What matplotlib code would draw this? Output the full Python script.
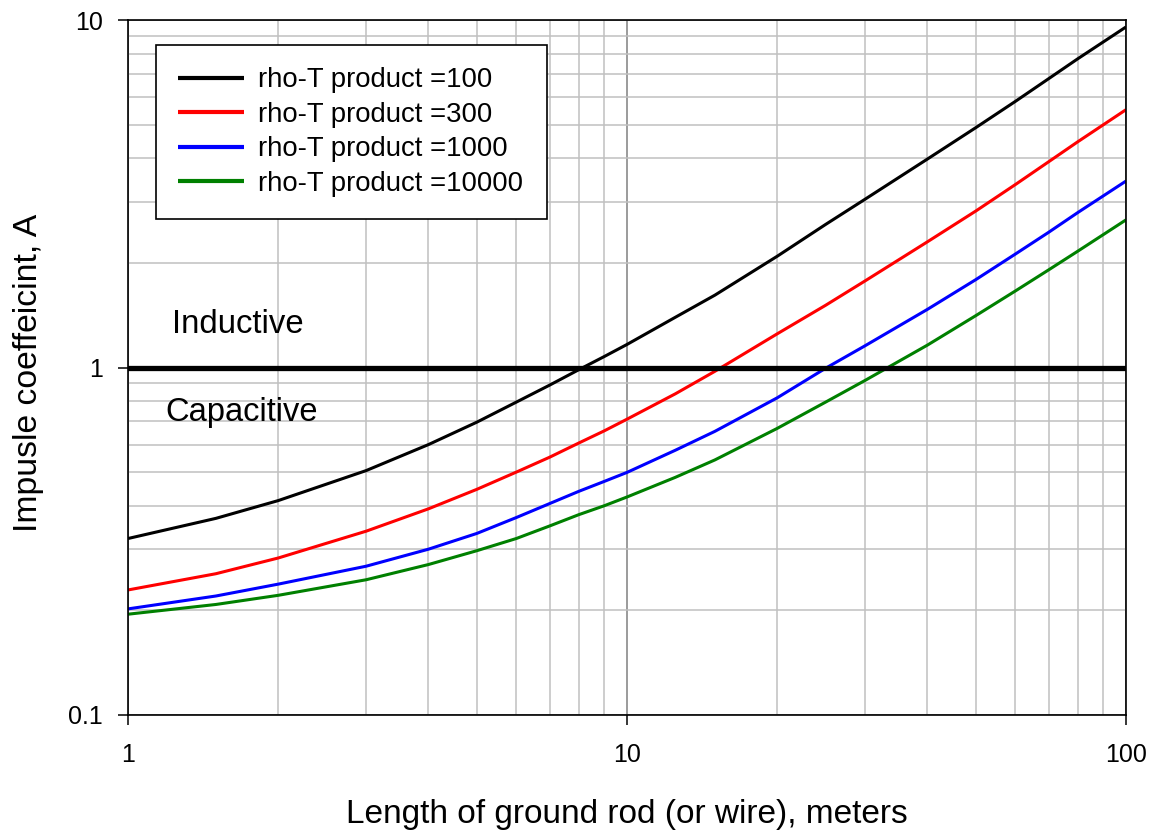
import matplotlib
matplotlib.use("Agg")
import matplotlib.pyplot as plt
from matplotlib.ticker import LogLocator, NullFormatter, FixedLocator, FixedFormatter

plt.rcParams['font.family'] = ['Liberation Sans', 'DejaVu Sans']

# ---- data ----
length_m = [1, 1.5, 2, 3, 4, 5, 6, 7, 8, 9, 10, 12.5, 15, 20, 25, 30, 40, 50, 60, 70, 80, 100]
coef_100 = [0.322, 0.368, 0.414, 0.505, 0.600, 0.696, 0.795, 0.890, 0.985, 1.075, 1.165,
            1.395, 1.615, 2.09, 2.58, 3.05, 3.98, 4.90, 5.83, 6.78, 7.73, 9.55]
coef_300 = [0.229, 0.255, 0.283, 0.338, 0.392, 0.446, 0.500, 0.552, 0.606, 0.657, 0.710,
            0.840, 0.975, 1.25, 1.51, 1.775, 2.30, 2.82, 3.36, 3.91, 4.46, 5.52]
coef_1000 = [0.202, 0.220, 0.238, 0.268, 0.300, 0.333, 0.370, 0.406, 0.440, 0.470, 0.499,
             0.578, 0.655, 0.818, 0.995, 1.155, 1.47, 1.79, 2.12, 2.45, 2.79, 3.44]
coef_10000 = [0.195, 0.208, 0.221, 0.245, 0.271, 0.297, 0.322, 0.350, 0.377, 0.400, 0.424,
              0.483, 0.542, 0.668, 0.795, 0.918, 1.16, 1.41, 1.66, 1.91, 2.16, 2.66]
series_labels = ["rho-T product =100", "rho-T product =300",
                 "rho-T product =1000", "rho-T product =10000"]
series_colors = ["#000000", "#FF0000", "#0000FF", "#008000"]
threshold = 1.0
x_ticks = [1, 10, 100]
x_tick_labels = ["1", "10", "100"]
y_ticks = [0.1, 1, 10]
y_tick_labels = ["0.1", "1", "10"]

W, H = 1152, 833
fig = plt.figure(figsize=(W / 100, H / 100), dpi=100)
L, R, T, B = 128, 1126, 20, 715
ax = fig.add_axes([L / W, 1 - B / H, (R - L) / W, (B - T) / H])
ax.set_xscale('log')
ax.set_yscale('log')
ax.set_xlim(1, 100)
ax.set_ylim(0.1, 10)

# grid
ax.xaxis.set_minor_locator(LogLocator(base=10, subs=range(2, 10)))
ax.yaxis.set_minor_locator(LogLocator(base=10, subs=range(2, 10)))
ax.xaxis.set_minor_formatter(NullFormatter())
ax.yaxis.set_minor_formatter(NullFormatter())
ax.xaxis.set_major_locator(FixedLocator(x_ticks))
ax.xaxis.set_major_formatter(FixedFormatter(x_tick_labels))
ax.yaxis.set_major_locator(FixedLocator(y_ticks))
ax.yaxis.set_major_formatter(FixedFormatter(y_tick_labels))
ax.grid(which='minor', color='#C0C0C0', lw=1.1)
ax.grid(which='major', color='#808080', lw=1.1)
ax.set_axisbelow(True)

ax.tick_params(which='minor', length=0)
ax.tick_params(which='major', direction='out', length=7, width=1.1, color='black',
               labelsize=18)
ax.tick_params(axis='x', which='major', pad=13)
ax.tick_params(axis='y', which='major', pad=11)
for s in ax.spines.values():
    s.set_linewidth(1.2)
    s.set_color('black')

# curves
all_series = [coef_100, coef_300, coef_1000, coef_10000]
for vals, lab, col in zip(all_series, series_labels, series_colors):
    ax.plot(length_m, vals, color=col, lw=2.2, label=lab,
            solid_joinstyle='round', solid_capstyle='butt')

ax.axhline(threshold, color='black', lw=3.8, zorder=3)

# region text
ax.text(0.0438, 0.5496, "Inductive", transform=ax.transAxes, fontsize=23.7,
        ha='left', va='baseline')
ax.text(0.0371, 0.423, "Capacitive", transform=ax.transAxes, fontsize=23.5,
        ha='left', va='baseline')

# legend
lx0, ly0, lx1, ly1 = 155.7, 44.7, 546.7, 217.7
leg = ax.legend(loc='upper left',
                bbox_to_anchor=(lx0 / W, 1 - ly1 / H, (lx1 - lx0) / W, (ly1 - ly0) / H),
                bbox_transform=fig.transFigure, mode='expand', borderaxespad=0,
                fontsize=19.8, handlelength=2.4, handletextpad=0.5,
                labelspacing=0.31, borderpad=0.82, fancybox=False, framealpha=1,
                edgecolor='black')
leg.get_frame().set_linewidth(1.2)
for lh in leg.get_lines():
    lh.set_linewidth(3.0)

# axis labels
fig.text(627 / W, 1 - 823 / H, "Length of ground rod (or wire), meters",
         fontsize=24, ha='center', va='baseline')
fig.text(29 / W, 1 - 373 / H, "Impusle coeffeicint, A", fontsize=24.3,
         rotation=90, ha='center', va='center')

fig.savefig("out.png", dpi=100)
